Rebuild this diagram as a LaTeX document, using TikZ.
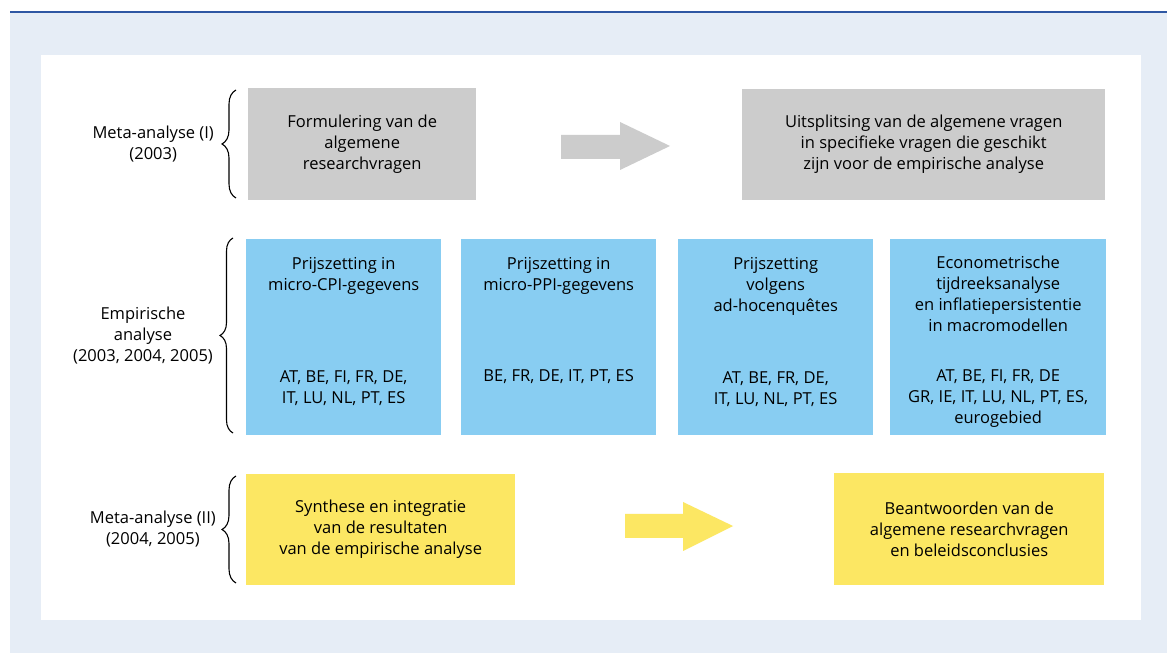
\documentclass[tikz,border=0pt]{standalone}
\usepackage{fontspec}
\setmainfont{Open Sans}
\usetikzlibrary{positioning,decorations.pathreplacing}
\definecolor{pagebg}{HTML}{E6EDF6}
\definecolor{rulecol}{HTML}{2E57A3}
\definecolor{greyfill}{HTML}{CCCCCC}
\definecolor{bluefill}{HTML}{88CDF2}
\definecolor{yellowfill}{HTML}{FCE763}
\tikzset{
  txt/.style={align=center, inner sep=0pt, font=\fontsize{16.5}{21}\selectfont},
  box/.style={txt, anchor=north west},
  greybox/.style={box, fill=greyfill},
  bluebox/.style={box, fill=bluefill, minimum height=196},
  yellowbox/.style={box, fill=yellowfill},
  phase/.style={decorate, decoration={brace, amplitude=14pt}, line width=1.1pt},
}
\begin{document}
\begin{tikzpicture}[x=1pt, y=1pt]
\useasboundingbox (0,0) rectangle (1167,653);
% background
\fill[pagebg] (10,0) rectangle (1167,640);
\draw[rulecol, line width=2pt] (10,640.5)--(1167,640.5);
\fill[white] (41,33) rectangle (1141,598);
% phase 1
\node[greybox, minimum width=228, minimum height=112] (formul) at (248,565)
  {Formulering van de\\algemene\\researchvragen};
\node[greybox, minimum width=363, minimum height=111] (uitspl) at (742,564)
  {Uitsplitsing van de algemene vragen\\in specifieke vragen die geschikt\\zijn voor de empirische analyse};
\fill[greyfill] (561,518)--(620,518)--(620,531)--(670,507)--(620,483)--(620,494)--(561,494)--cycle;
% phase 2
\node[bluebox, minimum width=195] (cpi) at (246,414) {};
\node[bluebox, minimum width=195] (ppi) at (461,414) {};
\node[bluebox, minimum width=195] (enq) at (678,414) {};
\node[bluebox, minimum width=216] (econ) at (890,414) {};
\node[txt, below=18 of cpi.north] {Prijszetting in\\micro-CPI-gegevens};
\node[txt, below=18 of ppi.north] {Prijszetting in\\micro-PPI-gegevens};
\node[txt, below=18 of enq.north] {Prijszetting\\volgens\\ad-hocenquêtes};
\node[txt, below=17 of econ.north] {Econometrische\\tijdreeksanalyse\\en inflatiepersistentie\\in macromodellen};
\node[txt, below=131 of cpi.north] {AT, BE, FI, FR, DE,\\IT, LU, NL, PT, ES};
\node[txt, below=130 of ppi.north] {BE, FR, DE, IT, PT, ES};
\node[txt, below=132 of enq.north] {AT, BE, FR, DE,\\IT, LU, NL, PT, ES};
\node[txt, below=130 of econ.north] {AT, BE, FI, FR, DE\\GR, IE, IT, LU, NL, PT, ES,\\eurogebied};
% phase 3
\node[yellowbox, minimum width=269, minimum height=111] (synth) at (246,179)
  {Synthese en integratie\\van de resultaten\\van de empirische analyse};
\node[yellowbox, minimum width=270, minimum height=112] (beant) at (834,180)
  {Beantwoorden van de\\algemene researchvragen\\en beleidsconclusies};
\fill[yellowfill] (625,139)--(683,139)--(683,151)--(733,127)--(683,102)--(683,115)--(625,115)--cycle;
% braces and labels
\draw[phase] (236,455) -- (236,563) coordinate[midway] (b1);
\draw[phase, decoration={amplitude=13pt}] (233,220) -- (233,415) coordinate[midway] (b2);
\draw[phase] (236,70) -- (236,177) coordinate[midway] (b3);
\node[txt, left=22 of b1] {Meta-analyse (I)\\(2003)};
\node[txt, left=20 of b2] {Empirische\\analyse\\(2003, 2004, 2005)};
\node[txt, left=20 of b3] {Meta-analyse (II)\\(2004, 2005)};
\end{tikzpicture}
\end{document}
